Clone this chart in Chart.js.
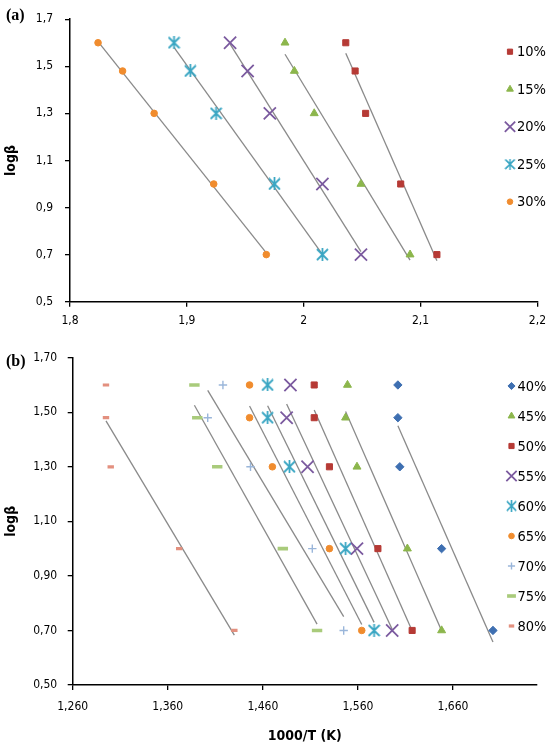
<!DOCTYPE html>
<html>
<head>
<meta charset="utf-8">
<script src="https://cdn.jsdelivr.net/npm/chart.js@4.4.0/dist/chart.umd.min.js"></script>
<style>
  html, body { margin: 0; padding: 0; background: #fff; }
  #wrap { position: relative; width: 553px; height: 747px; overflow: hidden; }
  #wrap canvas { position: absolute; left: 0; }
  .tag { position: absolute; font: bold 16px "Liberation Serif", serif; color: #000; line-height: 18px; }
</style>
</head>
<body>
<div id="wrap">
  <canvas id="chartA" width="553" height="340" style="top:0"></canvas>
  <canvas id="chartB" width="553" height="407" style="top:340px"></canvas>
  <div class="tag" style="left:6px;top:6px">(a)</div>
  <div class="tag" style="left:6px;top:352px">(b)</div>
</div>
<script>
// ── data ───────────────────────────────────────────── //
// log(beta) levels, shared by every series
const logBeta = [1.60, 1.48, 1.30, 1.00, 0.70];

// (a) 1000/T per series
const labelsA = ['10%', '15%', '20%', '25%', '30%'];
const xA10 = [2.036, 2.044, 2.053, 2.083, 2.114];
const xA15 = [1.984, 1.992, 2.009, 2.049, 2.091];
const xA20 = [1.937, 1.952, 1.971, 2.016, 2.049];
const xA25 = [1.889, 1.903, 1.925, 1.975, 2.016];
const xA30 = [1.824, 1.845, 1.872, 1.923, 1.968];

// (b) 1000/T per series
const labelsB = ['40%', '45%', '50%', '55%', '60%', '65%', '70%', '75%', '80%'];
const xB40 = [1.602, 1.602, 1.604, 1.648, 1.702];
const xB45 = [1.549, 1.547, 1.559, 1.612, 1.648];
const xB50 = [1.514, 1.514, 1.530, 1.581, 1.617];
const xB55 = [1.489, 1.485, 1.507, 1.559, 1.596];
const xB60 = [1.465, 1.465, 1.488, 1.547, 1.577];
const xB65 = [1.446, 1.446, 1.470, 1.530, 1.564];
const xB70 = [1.418, 1.402, 1.447, 1.512, 1.545];
const xB75 = [1.388, 1.391, 1.412, 1.481, 1.517];
const xB80 = [1.295, 1.295, 1.300, 1.372, 1.430];

// ticks
const xTicksA = [1.8, 1.9, 2.0, 2.1, 2.2];
const xTickLabelsA = ['1,8', '1,9', '2', '2,1', '2,2'];
const yTicksA = [0.5, 0.7, 0.9, 1.1, 1.3, 1.5, 1.7];
const yTickLabelsA = ['0,5', '0,7', '0,9', '1,1', '1,3', '1,5', '1,7'];
const xTicksB = [1.26, 1.36, 1.46, 1.56, 1.66];
const xTickLabelsB = ['1,260', '1,360', '1,460', '1,560', '1,660'];
const yTicksB = [0.5, 0.7, 0.9, 1.1, 1.3, 1.5, 1.7];
const yTickLabelsB = ['0,50', '0,70', '0,90', '1,10', '1,30', '1,50', '1,70'];

// ── marker styles ──────────────────────────────────── //
function starImage(color, size) {
  // Excel-like star: an X with a vertical bar
  const c = document.createElement('canvas');
  c.width = size; c.height = size;
  const g = c.getContext('2d');
  g.strokeStyle = color;
  g.lineWidth = 1.8;
  g.beginPath();
  g.moveTo(1, 1); g.lineTo(size - 1, size - 1);
  g.moveTo(size - 1, 1); g.lineTo(1, size - 1);
  g.moveTo(size / 2, 0); g.lineTo(size / 2, size);
  g.stroke();
  return c;
}

const STY = {
  blue:   { color: '#3e6fb1', pointStyle: 'rectRot',  radius: 4.2, bw: 1 },
  red:    { color: '#b63a35', pointStyle: 'rect',     radius: 4.3, bw: 1 },
  green:  { color: '#8cb64c', pointStyle: 'triangle', radius: 4.6, bw: 1 },
  purple: { color: '#7b5a9f', pointStyle: 'crossRot', radius: 8.6, bw: 1.8 },
  aqua:   { color: '#3aa6c3', pointStyle: starImage('#3aa6c3', 13), radius: 6.5, bw: 0 },
  orange: { color: '#f08c2e', pointStyle: 'circle',   radius: 3.3, bw: 1 },
  ltblue: { color: '#9ab6da', pointStyle: 'cross',    radius: 4.2, bw: 1.4 },
  ltgreen:{ color: '#a9cb7b', pointStyle: 'line',     radius: 5.2, bw: 3.6 },
  salmon: { color: '#e3907f', pointStyle: 'line',     radius: 3.2, bw: 3.2 },
};

// ── helpers ────────────────────────────────────────── //
function trendLine(xs, ys) {
  // least-squares line across the series' x range (like an Excel trendline)
  const n = xs.length;
  const mx = xs.reduce((a, b) => a + b, 0) / n;
  const my = ys.reduce((a, b) => a + b, 0) / n;
  let sxy = 0, sxx = 0;
  xs.forEach((x, i) => { sxy += (x - mx) * (ys[i] - my); sxx += (x - mx) * (x - mx); });
  const b = sxy / sxx, a = my - b * mx;
  const x0 = Math.min(...xs), x1 = Math.max(...xs);
  return [{ x: x0, y: a + b * x0 }, { x: x1, y: a + b * x1 }];
}

function buildDatasets(labels, xsList, styles) {
  const marks = [], lines = [];
  xsList.forEach((xs, i) => {
    const s = styles[i];
    marks.push({
      label: labels[i],
      legend: true,
      sty: s,
      data: xs.map((x, k) => ({ x, y: logBeta[k] })),
      showLine: false,
      pointStyle: s.pointStyle,
      pointRadius: s.radius,
      pointHoverRadius: s.radius,
      pointBorderWidth: s.bw,
      backgroundColor: s.color,
      borderColor: s.color,
      order: 0,
    });
    lines.push({
      label: labels[i] + ' trend',
      data: trendLine(xs, logBeta),
      showLine: true,
      pointRadius: 0,
      borderColor: '#8a8a8a',
      borderWidth: 1.3,
      order: 1,
    });
  });
  return lines.concat(marks);
}

// legend drawn over the right side of the plot, like the original
const sideLegend = {
  id: 'sideLegend',
  afterDraw(chart, args, opts) {
    const ctx = chart.ctx;
    ctx.save();
    let i = 0;
    chart.data.datasets.forEach(d => {
      if (!d.legend) return;
      const y = opts.top + i * opts.step;
      const s = d.sty;
      ctx.fillStyle = s.color;
      ctx.strokeStyle = s.color;
      ctx.lineWidth = s.bw;
      const r = typeof s.pointStyle === 'string' ? s.radius * 0.85 : s.radius;
      let style = s.pointStyle;
      if (typeof style !== 'string') {
        ctx.drawImage(style, opts.x - style.width / 2 * 0.85, y - style.height / 2 * 0.85,
          style.width * 0.85, style.height * 0.85);
      } else {
        Chart.helpers.drawPoint(ctx, { pointStyle: style, radius: r, rotation: 0, borderWidth: s.bw }, opts.x, y);
      }
      ctx.fillStyle = '#000';
      ctx.font = opts.font;
      ctx.textBaseline = 'middle';
      ctx.textAlign = 'left';
      ctx.fillText(d.label, opts.x + opts.gap, y + 1);
      i++;
    });
    ctx.restore();
  },
};

const tickFont = { family: "'DejaVu Sans Condensed', 'DejaVu Sans', sans-serif", size: 12 };
const titleFont = { family: "'DejaVu Sans Condensed', 'DejaVu Sans', sans-serif", size: 14, weight: 'bold' };
const legendFont = "14.5px 'DejaVu Sans Condensed', 'DejaVu Sans'";

function makeScales(cfg) {
  return {
    x: {
      type: 'linear',
      min: cfg.xMin, max: cfg.xMax,
      afterBuildTicks: s => { s.ticks = cfg.xTicks.map(v => ({ value: v })); },
      afterFit: s => { s.height = cfg.xHeight; },
      ticks: {
        callback: (v, i) => cfg.xLabels[i],
        font: tickFont, color: '#000', padding: cfg.xPad,
        maxRotation: 0, autoSkip: false,
      },
      grid: { drawOnChartArea: false, color: '#000', tickLength: 5, lineWidth: 1.3 },
      border: { color: '#000', width: 1.5 },
      title: cfg.xTitle
        ? { display: true, text: cfg.xTitle, font: titleFont, color: '#000', padding: { top: 4, bottom: 2 } }
        : { display: false },
    },
    y: {
      type: 'linear',
      min: 0.5, max: 1.7,
      afterBuildTicks: s => { s.ticks = cfg.yTicks.map(v => ({ value: v })); },
      afterFit: s => { s.width = cfg.yWidth; },
      ticks: {
        callback: (v, i) => cfg.yLabels[i],
        font: tickFont, color: '#000', padding: cfg.yPad,
        autoSkip: false,
      },
      grid: { drawOnChartArea: false, color: '#000', tickLength: 5, lineWidth: 1.3 },
      border: { color: '#000', width: 1.5 },
      title: { display: true, text: 'logβ', font: titleFont, color: '#000', padding: { top: 3, bottom: 4 } },
    },
  };
}

Chart.defaults.animation = false;

// ── (a) ────────────────────────────────────────────── //
new Chart(document.getElementById('chartA'), {
  type: 'scatter',
  plugins: [sideLegend],
  data: {
    datasets: buildDatasets(labelsA, [xA10, xA15, xA20, xA25, xA30],
      [STY.red, STY.green, STY.purple, STY.aqua, STY.orange]),
  },
  options: {
    responsive: false,
    devicePixelRatio: 1,
    layout: { autoPadding: false, padding: { left: 0, right: 9.7, top: 7.3, bottom: 0 } },
    plugins: {
      legend: { display: false },
      tooltip: { enabled: false },
      sideLegend: { x: 510, gap: 7, top: 51.7, step: 37.5, font: legendFont },
    },
    scales: makeScales({
      xMin: 1.8, xMax: 2.2, xTicks: xTicksA, xLabels: xTickLabelsA, xHeight: 38.3, xPad: 7,
      yTicks: yTicksA, yLabels: yTickLabelsA, yWidth: 70, yPad: 12, xTitle: null,
    }),
  },
});

// ── (b) ────────────────────────────────────────────── //
new Chart(document.getElementById('chartB'), {
  type: 'scatter',
  plugins: [sideLegend],
  data: {
    datasets: buildDatasets(labelsB, [xB40, xB45, xB50, xB55, xB60, xB65, xB70, xB75, xB80],
      [STY.blue, STY.green, STY.red, STY.purple, STY.aqua, STY.orange, STY.ltblue, STY.ltgreen, STY.salmon]),
  },
  options: {
    responsive: false,
    devicePixelRatio: 1,
    layout: { autoPadding: false, padding: { left: 0, right: 16.3, top: 17.7, bottom: 0 } },
    plugins: {
      legend: { display: false },
      tooltip: { enabled: false },
      sideLegend: { x: 511.5, gap: 6, top: 46, step: 30, font: legendFont },
    },
    scales: makeScales({
      xMin: 1.26, xMax: 1.748, xTicks: xTicksB, xLabels: xTickLabelsB, xHeight: 62, xPad: 10,
      yTicks: yTicksB, yLabels: yTickLabelsB, yWidth: 72.7, yPad: 10.5, xTitle: '1000/T (K)',
    }),
  },
});
</script>
</body>
</html>
